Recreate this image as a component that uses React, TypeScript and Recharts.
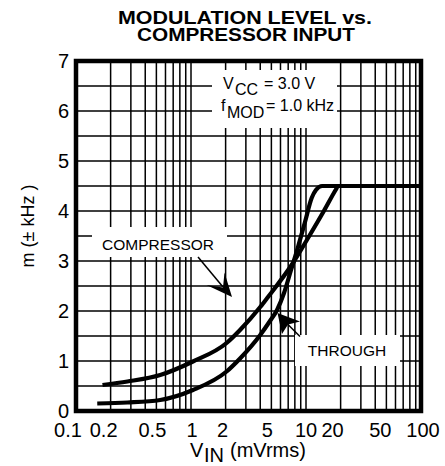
import { ComposedChart, Line, XAxis, YAxis, ReferenceLine } from "recharts";

const xTicks = [0.1, 0.2, 0.5, 1, 2, 5, 10, 20, 50, 100];
const yTicks = [0, 1, 2, 3, 4, 5, 6, 7];

// log paper minor lines + half-unit horizontals
const xGrid = [
  0.2, 0.3, 0.4, 0.5, 0.6, 0.7, 0.8, 0.9,
  1, 2, 3, 4, 5, 6, 7, 8, 9,
  10, 20, 30, 40, 50, 60, 70, 80, 90,
];
const yGrid = [0.5, 1, 1.5, 2, 2.5, 3, 3.5, 4, 4.5, 5, 5.5, 6, 6.5];

const compressorX = [0.17, 0.28, 0.54, 1.04, 2.04, 2.67, 4.0, 4.6, 7.7, 10.8, 14.3, 18.2, 19, 100];
const compressorY = [0.52, 0.59, 0.72, 0.99, 1.36, 1.62, 2.08, 2.26, 2.96, 3.52, 4.0, 4.43, 4.5, 4.5];

const throughX = [0.153, 0.28, 0.54, 1.04, 2.04, 2.67, 4.0, 4.86, 5.6, 6.44, 7.41, 8.52, 9.8, 11.2, 12.2, 13.8, 100];
const throughY = [0.15, 0.17, 0.22, 0.42, 0.79, 1.05, 1.52, 1.8, 2.02, 2.36, 2.82, 3.28, 3.78, 4.26, 4.42, 4.5, 4.5];

const compressor = compressorX.map((x, i) => ({ x, y: compressorY[i] }));
const through = throughX.map((x, i) => ({ x, y: throughY[i] }));

const FONT = "'Liberation Sans', Arial, Helvetica, sans-serif";

// labels on the original sit a bit off their lines
const xLabelShift: Record<string, number> = {
  "0.1": -8, "0.2": -7, "0.5": -4, "1": 1, "2": -3, "5": -4,
  "10": 0, "20": -8, "50": -6, "100": 2,
};

const XTick = (props: any) => {
  const { x, payload } = props;
  const label = String(payload.value);
  return (
    <text x={x + (xLabelShift[label] ?? 0)} y={437} textAnchor="middle"
      fontFamily={FONT} fontSize={20} fill="#000">
      {label}
    </text>
  );
};

const YTick = (props: any) => {
  const { y, payload } = props;
  return (
    <text x={69} y={y + 7} textAnchor="end" fontFamily={FONT} fontSize={20} fill="#000">
      {payload.value}
    </text>
  );
};

export default function App() {
  return (
    <div style={{ position: "absolute", left: 0, top: 0, width: 445, height: 466, background: "#fff" }}>
      <ComposedChart width={445} height={466} margin={{ top: 61, right: 24, bottom: 0, left: 0 }}>
        <XAxis
          dataKey="x"
          type="number"
          scale="log"
          domain={[0.1, 100]}
          allowDataOverflow
          ticks={xTicks}
          height={55}
          axisLine={false}
          tickLine={false}
          tick={<XTick />}
          interval={0}
        />
        <YAxis
          type="number"
          domain={[0, 7]}
          ticks={yTicks}
          width={76}
          axisLine={false}
          tickLine={false}
          tick={<YTick />}
          interval={0}
        />
        {xGrid.map((v) => (
          <ReferenceLine key={"vx" + v} x={v} stroke="#000" strokeWidth={1.5} />
        ))}
        {yGrid.map((v) => (
          <ReferenceLine key={"hy" + v} y={v} stroke="#000" strokeWidth={1.5} />
        ))}
        <Line data={compressor} dataKey="y" type="monotone" stroke="#000" strokeWidth={4.2}
          dot={false} isAnimationActive={false} />
        <Line data={through} dataKey="y" type="monotone" stroke="#000" strokeWidth={4.2}
          dot={false} isAnimationActive={false} />
      </ComposedChart>

      <svg width={445} height={466} style={{ position: "absolute", left: 0, top: 0, pointerEvents: "none" }}
        fontFamily={FONT}>
        <text x={245} y={24} textAnchor="middle" fontSize={19} fontWeight="bold"
          textLength={254} lengthAdjust="spacingAndGlyphs">MODULATION LEVEL vs.</text>
        <text x={246} y={41} textAnchor="middle" fontSize={19} fontWeight="bold"
          textLength={218} lengthAdjust="spacingAndGlyphs">COMPRESSOR INPUT</text>

        {/* annotation boxes hide the grid behind their text */}
        <rect x={212} y={70} width={125} height={58} fill="#fff" />
        <rect x={92} y={227} width={135} height={30} fill="#fff" />
        <rect x={295} y={335} width={105} height={31} fill="#fff" />

        <text fontSize={16}>
          <tspan x={223} y={89}>V</tspan>
          <tspan x={235} y={95}>CC</tspan>
          <tspan x={264} y={89}>= 3.0 V</tspan>
        </text>
        <text fontSize={16}>
          <tspan x={221} y={111}>f</tspan>
          <tspan x={227} y={118}>MOD</tspan>
          <tspan x={266} y={111}>= 1.0 kHz</tspan>
        </text>

        <text x={158} y={250} textAnchor="middle" fontSize={15.5}>COMPRESSOR</text>
        <text x={347} y={356} textAnchor="middle" fontSize={15.5}>THROUGH</text>

        <line x1={198} y1={257} x2={223} y2={287} stroke="#000" strokeWidth={1.5} />
        <polygon points="232,297 206.5,285 223,287.5 224.5,272.5" fill="#000" />

        <line x1={300} y1={336.5} x2={288} y2={324.5} stroke="#000" strokeWidth={1.5} />
        <polygon points="277.5,313 300,321.5 288,324.5 282,334" fill="#000" />

        <rect x={76} y={61} width={345} height={350} fill="none" stroke="#000" strokeWidth={4.5} />

        <text transform="translate(34,226) rotate(-90)" textAnchor="middle" fontSize={18}>m (± kHz )</text>
        <text fontSize={20}>
          <tspan x={190} y={457}>V</tspan>
          <tspan x={204} y={462}>IN</tspan>
          <tspan x={230} y={457}>(mVrms)</tspan>
        </text>
      </svg>
    </div>
  );
}
